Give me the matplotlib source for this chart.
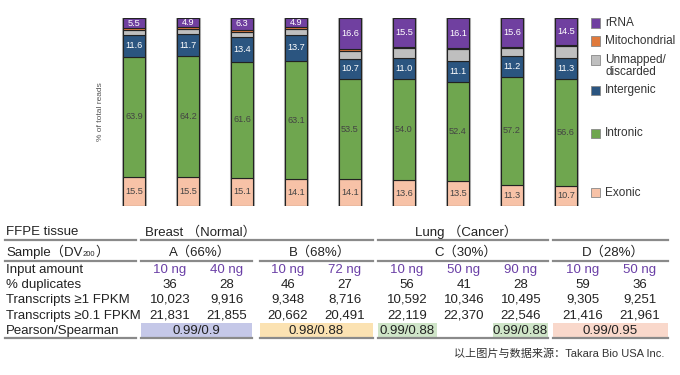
import matplotlib
matplotlib.use("Agg")
import matplotlib.pyplot as plt
from matplotlib.patches import Rectangle

plt.rcParams['font.family'] = ['Liberation Sans', 'Noto Sans CJK SC', 'DejaVu Sans']

# stacked bar data (% of total reads), bottom to top
exonic = [15.5, 15.5, 15.1, 14.1, 14.1, 13.6, 13.5, 11.3, 10.7]
intronic = [63.9, 64.2, 61.6, 63.1, 53.5, 54.0, 52.4, 57.2, 56.6]
intergenic = [11.6, 11.7, 13.4, 13.7, 10.7, 11.0, 11.1, 11.2, 11.3]
unmapped = [2.5, 2.7, 2.6, 3.2, 4.3, 5.2, 6.3, 4.1, 6.3]
mito = [1.0, 1.0, 1.0, 1.0, 0.8, 0.7, 0.6, 0.6, 0.6]
rrna = [5.5, 4.9, 6.3, 4.9, 16.6, 15.5, 16.1, 15.6, 14.5]

# table data
input_amount = ['10 ng', '40 ng', '10 ng', '72 ng', '10 ng', '50 ng', '90 ng', '10 ng', '50 ng']
duplicates = [36, 28, 46, 27, 56, 41, 28, 59, 36]
transcripts_1 = [10023, 9916, 9348, 8716, 10592, 10346, 10495, 9305, 9251]
transcripts_01 = [21831, 21855, 20662, 20491, 22119, 22370, 22546, 21416, 21961]
samples = ['A（66%）', 'B（68%）', 'C（30%）', 'D（28%）']
pearson = ['0.99/0.9', '0.98/0.88', '0.99/0.88', '0.99/0.88', '0.99/0.95']

W, H = 680, 375
fig = plt.figure(figsize=(6.8, 3.75), dpi=100)


def fx(px):
    return px / W


def fy(py):
    return 1 - py / H


# ---- stacked bars ----
ax = fig.add_axes([fx(107), fy(206), fx(486), 188 / H])
x = list(range(len(exonic)))
layers = [
    (exonic, '#f7c2a7', '#444444', True),
    (intronic, '#6fa64f', '#444444', True),
    (intergenic, '#2b5580', 'white', True),
    (unmapped, '#bfbfbf', None, False),
    (mito, '#e07a3c', None, False),
    (rrna, '#7040a0', 'white', True),
]
totals = [sum(v) for v in zip(*[l[0] for l in layers])]
# light grey outline around each whole bar
ax.bar(x, totals, width=0.41, color='none', edgecolor='#b0b0b0', linewidth=2.2)
bottom = [0.0] * len(x)
for vals, color, tcolor, show in layers:
    ax.bar(x, vals, width=0.41, bottom=bottom, color=color,
           edgecolor='#222222', linewidth=0.8)
    if show:
        for i, v in enumerate(vals):
            ax.text(i, bottom[i] + v / 2, f'{v:.1f}', ha='center', va='center',
                    fontsize=6.6, color=tcolor)
    bottom = [b + v for b, v in zip(bottom, vals)]
ax.set_xlim(-0.5, 8.5)
ax.set_ylim(0, 100)
ax.axis('off')
fig.text(fx(100), fy(112), '% of total reads', rotation=90, ha='center',
         va='center', fontsize=6, color='#555555')

# ---- legend ----
legend_items = [
    ('rRNA', '#7040a0', 23),
    ('Mitochondrial', '#e07a3c', 41),
    ('Unmapped/\ndiscarded', '#bfbfbf', 60),
    ('Intergenic', '#2b5580', 90),
    ('Intronic', '#6fa64f', 133),
    ('Exonic', '#f7c2a7', 193),
]
for label, color, py in legend_items:
    fig.add_artist(Rectangle((fx(591), fy(py + 4.5)), fx(9), 9 / H,
                             transform=fig.transFigure, facecolor=color,
                             edgecolor='#888888', linewidth=0.6))
    fig.text(fx(605), fy(py - 6), label, ha='left', va='top', fontsize=8.5,
             color='#333333', linespacing=1.0)

# ---- table ----
fs = 9.5
tc = '#222222'
col_x = [170, 227, 288, 345, 407, 464, 521, 583, 640]
sections = [(141, 252), (260, 373), (378, 548), (553, 668)]
label_span = (5, 136)


def hline(x0, x1, py, lw=1.6):
    fig.add_artist(plt.Line2D([fx(x0), fx(x1)], [fy(py), fy(py)],
                              transform=fig.transFigure, color='#8a8a8a',
                              linewidth=lw))


# row 1
fig.text(fx(6), fy(232), 'FFPE tissue', ha='left', va='center', fontsize=fs, color=tc)
fig.text(fx(200), fy(232), 'Breast （Normal）', ha='center', va='center', fontsize=fs, color=tc)
fig.text(fx(466), fy(232), 'Lung （Cancer）', ha='center', va='center', fontsize=fs, color=tc)
hline(*label_span, 240)
hline(141, 373, 240)
hline(378, 548, 240)
hline(553, 668, 240)

# row 2
r = fig.canvas.get_renderer()
t = fig.text(fx(6), fy(252), 'Sample（DV', ha='left', va='center', fontsize=fs, color=tc)
bb = t.get_window_extent(renderer=r)
t2 = fig.text(bb.x1 / W, fy(255), '200', ha='left', va='center', fontsize=5.5, color=tc)
bb2 = t2.get_window_extent(renderer=r)
fig.text(bb2.x1 / W, fy(252), '）', ha='left', va='center', fontsize=fs, color=tc)
for (a, b), s in zip(sections, samples):
    fig.text(fx((a + b) / 2 + 3), fy(252), s, ha='center', va='center', fontsize=fs, color=tc)
hline(*label_span, 261)
for a, b in sections:
    hline(a, b, 261)

# data rows
rows = [
    ('Input amount', input_amount, '#6a3fa6', 270),
    ('% duplicates', [str(v) for v in duplicates], tc, 285),
    ('Transcripts ≥1 FPKM', [f'{v:,}' for v in transcripts_1], tc, 300),
    ('Transcripts ≥0.1 FPKM', [f'{v:,}' for v in transcripts_01], tc, 316),
]
for label, vals, color, py in rows:
    fig.text(fx(6), fy(py), label, ha='left', va='center', fontsize=fs, color=tc)
    for cx, v in zip(col_x, vals):
        fig.text(fx(cx), fy(py), v, ha='center', va='center', fontsize=fs, color=color)

# Pearson row
fig.text(fx(6), fy(331), 'Pearson/Spearman', ha='left', va='center', fontsize=fs, color=tc)
pearson_cells = [(141, 252, '#c5c8e8'), (260, 373, '#fbe2b2'), (378, 437, '#cfe5c8'),
                 (493, 548, '#cfe5c8'), (553, 668, '#f9d8cb')]
for (a, b, c), txt in zip(pearson_cells, pearson):
    fig.add_artist(Rectangle((fx(a), fy(338)), fx(b - a), 15 / H,
                             transform=fig.transFigure, facecolor=c, edgecolor='none'))
    fig.text(fx((a + b) / 2), fy(331), txt, ha='center', va='center', fontsize=fs, color=tc)
hline(*label_span, 338)
for a, b in sections:
    hline(a, b, 338)

fig.text(fx(664), fy(354), '以上图片与数据来源：Takara Bio USA Inc.', ha='right',
         va='center', fontsize=8, color='#333333')

fig.savefig('out.png', dpi=100)
